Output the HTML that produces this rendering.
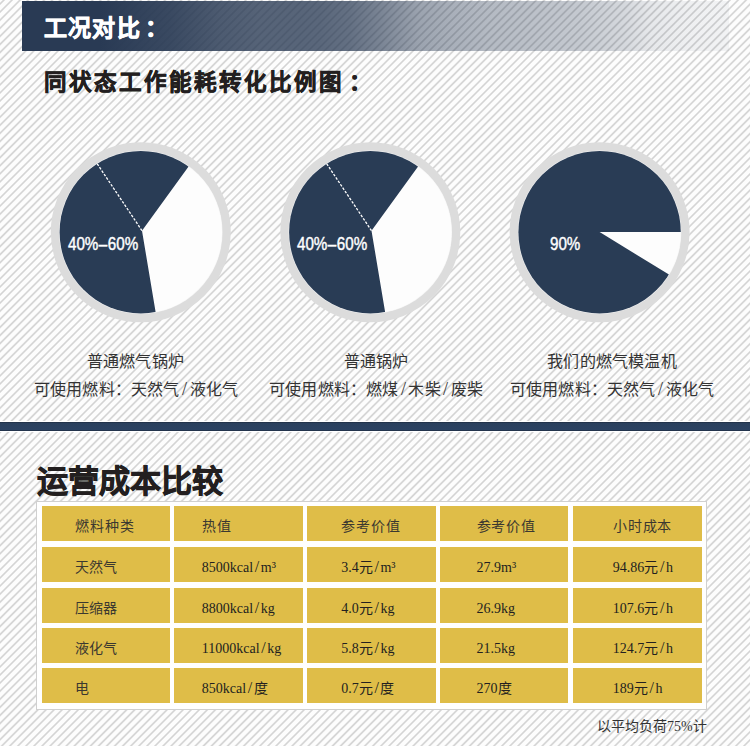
<!DOCTYPE html>
<html lang="zh-CN"><head><meta charset="utf-8">
<style>
html,body{margin:0;padding:0;}
body{width:750px;height:746px;position:relative;overflow:hidden;background:#fdfdfd;font-family:"Liberation Sans",sans-serif;}
.abs{position:absolute;}
#bar{left:22px;top:1px;width:707px;height:50px;
 background:linear-gradient(90deg, rgba(41,58,84,1) 0px, rgba(41,58,84,1) 78px, rgba(41,58,84,0.92) 148px, rgba(41,58,84,0.83) 198px, rgba(41,58,84,0.79) 238px, rgba(41,58,84,0.78) 278px, rgba(41,58,84,0.77) 298px, rgba(41,58,84,0.72) 328px, rgba(41,58,84,0.62) 358px, rgba(41,58,84,0.46) 398px, rgba(41,58,84,0.4) 428px, rgba(41,58,84,0.34) 468px, rgba(41,58,84,0.31) 508px, rgba(41,58,84,0.265) 558px, rgba(41,58,84,0.23) 578px, rgba(41,58,84,0.19) 603px, rgba(41,58,84,0.11) 628px, rgba(41,58,84,0.07) 663px, rgba(41,58,84,0.05) 707px);}
#stripes{left:0;top:0;width:750px;height:746px;
 background:repeating-linear-gradient(134.94deg, rgba(0,0,0,0) 0px, rgba(0,0,0,0) 1.42px, rgba(0,0,0,0.16) 2.52px, rgba(0,0,0,0.16) 3.12px, rgba(0,0,0,0) 4.22px, rgba(0,0,0,0) 5.7105px);}
.t1{left:44px;top:11px;font-size:23px;letter-spacing:1.2px;font-weight:bold;-webkit-text-stroke:0.7px #fff;color:#fff;white-space:nowrap;line-height:34px;}
.t2{left:44px;top:66px;font-size:22.5px;letter-spacing:2px;font-weight:bold;-webkit-text-stroke:0.6px #231f20;color:#231f20;white-space:nowrap;line-height:34px;}
.pies{position:absolute;left:0;top:0;}
.pl{color:#fff;font-size:18.5px;white-space:nowrap;line-height:20px;transform:scaleX(0.82);transform-origin:0 0;-webkit-text-stroke:0.45px #fff;}
.cap{font-family:"Liberation Serif",serif;color:#333;font-size:16px;white-space:nowrap;line-height:20px;text-align:center;width:260px;letter-spacing:0.2px;}
#sep{left:0;top:422px;width:750px;height:9px;background:linear-gradient(180deg,#1f2d42 0px,#2a405e 1.5px,#2b4262 7.5px,#1f2d42 9px);box-shadow:0 -1px 0 #fff,0 1px 0 #fff;}
.t3{left:36.5px;top:462px;font-size:31px;font-weight:bold;-webkit-text-stroke:0.8px #231f20;color:#231f20;white-space:nowrap;line-height:40px;}
#tbl{left:36px;top:501px;width:669px;height:207px;background:#fff;border:1px solid #d0d0d0;}
.cell{position:absolute;background:#dfbd48;height:35px;width:128.3px;}
.tx{position:absolute;font-family:"Liberation Serif",serif;color:#231f20;font-size:14px;white-space:nowrap;line-height:20px;}
.sl{margin:0 2.3px;font-size:18px;line-height:10px;}
.sl2{margin:0 1.6px;font-size:16px;line-height:10px;}
.note{left:597px;top:717px;font-family:"Liberation Serif",serif;color:#333;font-size:14px;white-space:nowrap;line-height:20px;}
</style></head><body>
<div id="stripes" class="abs"></div>
<div id="bar" class="abs"></div>
<div class="abs t1">工况对比<span style="margin-left:4px">：</span></div>
<div class="abs t2">同状态工作能耗转化比例图<span style="margin-left:5px">：</span></div>
<svg class="pies" width="750" height="746" viewBox="0 0 750 746"><defs><clipPath id="c0"><circle cx="140.8" cy="232.2" r="81.2"/></clipPath></defs><circle cx="140.8" cy="232.2" r="85.6" fill="none" stroke="#dcdcdc" stroke-width="8.8"/><circle cx="140.8" cy="232.2" r="81.7" fill="#f4f4f4"/><circle cx="140.8" cy="232.2" r="81.2" fill="#fdfdfd"/><path d="M142.00,230.70 L155.90,313.75 A84.2,84.2 0 1 1 191.49,162.58 Z" fill="#293c55" clip-path="url(#c0)"/><line x1="142.00" y1="230.70" x2="96.83" y2="163.22" stroke="#ffffff" stroke-width="1.3" stroke-dasharray="2.6 1.5"/><defs><clipPath id="c1"><circle cx="370.3" cy="232.2" r="81.2"/></clipPath></defs><circle cx="370.3" cy="232.2" r="85.6" fill="none" stroke="#dcdcdc" stroke-width="8.8"/><circle cx="370.3" cy="232.2" r="81.7" fill="#f4f4f4"/><circle cx="370.3" cy="232.2" r="81.2" fill="#fdfdfd"/><path d="M371.50,230.70 L385.40,313.75 A84.2,84.2 0 1 1 420.99,162.58 Z" fill="#293c55" clip-path="url(#c1)"/><line x1="371.50" y1="230.70" x2="326.33" y2="163.22" stroke="#ffffff" stroke-width="1.3" stroke-dasharray="2.6 1.5"/><defs><clipPath id="c2"><circle cx="599.6" cy="232.2" r="81.2"/></clipPath></defs><circle cx="599.6" cy="232.2" r="85.6" fill="none" stroke="#dcdcdc" stroke-width="8.8"/><circle cx="599.6" cy="232.2" r="81.7" fill="#f4f4f4"/><circle cx="599.6" cy="232.2" r="81.2" fill="#fdfdfd"/><path d="M599.60,232.10 L671.39,276.09 A84.2,84.2 0 1 1 683.80,232.10 Z" fill="#293c55" clip-path="url(#c2)"/></svg>
<div class="abs pl" style="left:67.5px;top:234px;">40%<span style="margin:0 0.6px">–</span>60%</div>
<div class="abs pl" style="left:297px;top:234px;">40%<span style="margin:0 0.6px">–</span>60%</div>
<div class="abs pl" style="left:550px;top:234px;">90%</div>
<div class="abs cap" style="left:5.5px;top:351.5px;">普通燃气锅炉</div>
<div class="abs cap" style="left:6px;top:380px;">可使用燃料：天然气<span class="sl">/</span>液化气</div>
<div class="abs cap" style="left:246.3px;top:351.5px;">普通锅炉</div>
<div class="abs cap" style="left:246px;top:380px;">可使用燃料：燃煤<span class="sl">/</span>木柴<span class="sl">/</span>废柴</div>
<div class="abs cap" style="left:482px;top:351.5px;">我们的燃气模温机</div>
<div class="abs cap" style="left:482px;top:380px;">可使用燃料：天然气<span class="sl">/</span>液化气</div>
<div id="sep" class="abs"></div>
<div class="abs t3">运营成本比较</div>
<div id="tbl" class="abs"></div>
<div class="cell" style="left:42px;top:506px;"></div><div class="cell" style="left:174.3px;top:506px;"></div><div class="cell" style="left:307.4px;top:506px;"></div><div class="cell" style="left:440.2px;top:506px;"></div><div class="cell" style="left:573.3px;top:506px;"></div><div class="cell" style="left:42px;top:547px;"></div><div class="cell" style="left:174.3px;top:547px;"></div><div class="cell" style="left:307.4px;top:547px;"></div><div class="cell" style="left:440.2px;top:547px;"></div><div class="cell" style="left:573.3px;top:547px;"></div><div class="cell" style="left:42px;top:588px;"></div><div class="cell" style="left:174.3px;top:588px;"></div><div class="cell" style="left:307.4px;top:588px;"></div><div class="cell" style="left:440.2px;top:588px;"></div><div class="cell" style="left:573.3px;top:588px;"></div><div class="cell" style="left:42px;top:628px;"></div><div class="cell" style="left:174.3px;top:628px;"></div><div class="cell" style="left:307.4px;top:628px;"></div><div class="cell" style="left:440.2px;top:628px;"></div><div class="cell" style="left:573.3px;top:628px;"></div><div class="cell" style="left:42px;top:668px;"></div><div class="cell" style="left:174.3px;top:668px;"></div><div class="cell" style="left:307.4px;top:668px;"></div><div class="cell" style="left:440.2px;top:668px;"></div><div class="cell" style="left:573.3px;top:668px;"></div><div class="tx" style="left:75.3px;top:517px;letter-spacing:0.9px;color:#3b3830;">燃料种类</div><div class="tx" style="left:201.8px;top:517px;letter-spacing:0.9px;color:#3b3830;">热值</div><div class="tx" style="left:341.3px;top:517px;letter-spacing:0.9px;color:#3b3830;">参考价值</div><div class="tx" style="left:476.5px;top:517px;letter-spacing:0.9px;color:#3b3830;">参考价值</div><div class="tx" style="left:612.8px;top:517px;letter-spacing:0.9px;color:#3b3830;">小时成本</div><div class="tx" style="left:75.3px;top:558px;color:#3b3830;">天然气</div><div class="tx" style="left:201.8px;top:558px;">8500kcal<span class=sl2>/</span>m³</div><div class="tx" style="left:341.3px;top:558px;">3.4元<span class=sl2>/</span>m³</div><div class="tx" style="left:476.5px;top:558px;">27.9m³</div><div class="tx" style="left:612.8px;top:558px;">94.86元<span class=sl2>/</span>h</div><div class="tx" style="left:75.3px;top:599px;color:#3b3830;">压缩器</div><div class="tx" style="left:201.8px;top:599px;">8800kcal<span class=sl2>/</span>kg</div><div class="tx" style="left:341.3px;top:599px;">4.0元<span class=sl2>/</span>kg</div><div class="tx" style="left:476.5px;top:599px;">26.9kg</div><div class="tx" style="left:612.8px;top:599px;">107.6元<span class=sl2>/</span>h</div><div class="tx" style="left:75.3px;top:639px;color:#3b3830;">液化气</div><div class="tx" style="left:201.8px;top:639px;">11000kcal<span class=sl2>/</span>kg</div><div class="tx" style="left:341.3px;top:639px;">5.8元<span class=sl2>/</span>kg</div><div class="tx" style="left:476.5px;top:639px;">21.5kg</div><div class="tx" style="left:612.8px;top:639px;">124.7元<span class=sl2>/</span>h</div><div class="tx" style="left:75.3px;top:679px;color:#3b3830;">电</div><div class="tx" style="left:201.8px;top:679px;">850kcal<span class=sl2>/</span>度</div><div class="tx" style="left:341.3px;top:679px;">0.7元<span class=sl2>/</span>度</div><div class="tx" style="left:476.5px;top:679px;">270度</div><div class="tx" style="left:612.8px;top:679px;">189元<span class=sl2>/</span>h</div>
<div class="abs note">以平均负荷75%计</div>
</body></html>
